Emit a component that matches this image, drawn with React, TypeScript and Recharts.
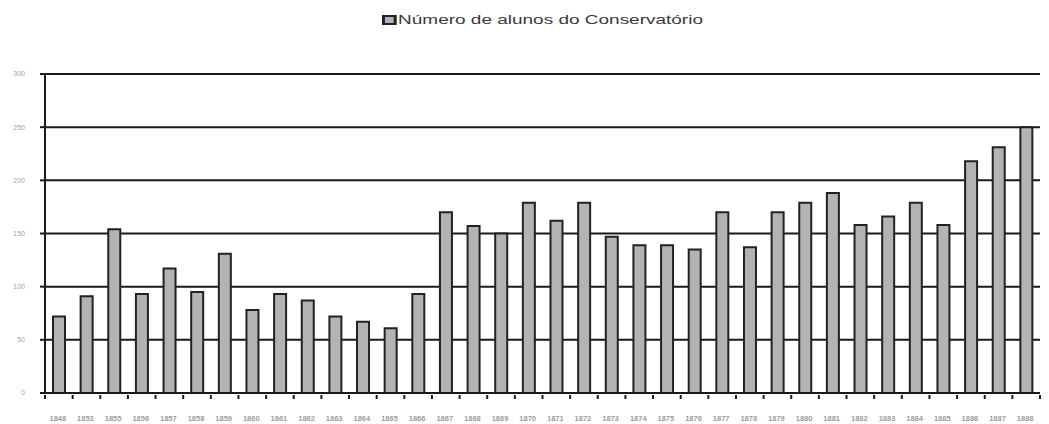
import React from "react"
import { Bar, BarChart, CartesianGrid, XAxis, YAxis } from "recharts"

const years = [
  "1848", "1853", "1855", "1856", "1857", "1858", "1859", "1860", "1861",
  "1862", "1863", "1864", "1865", "1866", "1867", "1868", "1869", "1870",
  "1871", "1872", "1873", "1874", "1875", "1876", "1877", "1878", "1879",
  "1880", "1881", "1882", "1883", "1884", "1885", "1886", "1887", "1888",
]

const students = [
  72, 91, 154, 93, 117, 95, 131, 78, 93,
  87, 72, 67, 61, 93, 170, 157, 150, 179,
  162, 179, 147, 139, 139, 135, 170, 137, 170,
  179, 188, 158, 166, 179, 158, 218, 231, 250,
]

const yTicks = [0, 50, 100, 150, 200, 250, 300]

const seriesName = "Número de alunos do Conservatório"

const data = years.map((year, i) => ({ year, alunos: students[i] }))

const W = 1049
const H = 424
const PLOT_LEFT = 45
const PLOT_RIGHT = 1040
const BAND = (PLOT_RIGHT - PLOT_LEFT) / years.length

// category ticks sit between the bars, not under them
function YearTick(props: any) {
  const { x, y, payload, index } = props
  const last = index === years.length - 1
  return (
    <g>
      <line x1={x - BAND / 2} x2={x - BAND / 2} y1={y - 18} y2={y - 14} stroke="#1a1a1a" strokeWidth={2} />
      {last && (
        <line x1={x + BAND / 2} x2={x + BAND / 2} y1={y - 18} y2={y - 14} stroke="#1a1a1a" strokeWidth={2} />
      )}
      <text x={x - 1} y={y + 8} textAnchor="middle" fontSize={7.5} fontWeight="bold" fill="#9c9c9c">
        {payload.value}
      </text>
    </g>
  )
}

export default function App() {
  return (
    <div style={{ position: "relative", width: W, height: H, fontFamily: "'Liberation Sans', Arial, sans-serif" }}>
      <style>{"body{margin:0}"}</style>
      {/* legend-style title, drawn wide */}
      <div
        style={{
          position: "absolute",
          top: 12,
          left: 382,
          fontSize: 13,
          lineHeight: "16px",
          color: "#3a3a3a",
          whiteSpace: "nowrap",
          display: "flex",
          alignItems: "center",
          transform: "scaleX(1.46)",
          transformOrigin: "left center",
        }}
      >
        <span
          style={{
            display: "inline-block",
            width: 6,
            height: 6,
            background: "#b3b3b7",
            border: "2px solid #222",
            marginRight: 1,
          }}
        />
        {seriesName}
      </div>
      <BarChart
        width={W}
        height={H}
        data={data}
        margin={{ top: 74, right: W - PLOT_RIGHT, bottom: 0, left: 0 }}
      >
        <CartesianGrid horizontal vertical={false} stroke="#1a1a1a" strokeWidth={2} />
        <XAxis
          dataKey="year"
          height={31}
          axisLine={{ stroke: "#1a1a1a", strokeWidth: 2 }}
          tickLine={false}
          interval={0}
          tick={<YearTick />}
          tickMargin={14}
        />
        <YAxis
          width={PLOT_LEFT}
          domain={[0, 300]}
          ticks={yTicks}
          interval={0}
          axisLine={{ stroke: "#1a1a1a", strokeWidth: 2 }}
          tickLine={{ stroke: "#1a1a1a", strokeWidth: 2 }}
          tickSize={5}
          tickMargin={15}
          tick={{ fontSize: 7, fill: "#a3a3a3" }}
        />
        <Bar
          dataKey="alunos"
          name={seriesName}
          fill="#b3b3b7"
          stroke="#222"
          strokeWidth={2}
          barSize={12}
          isAnimationActive={false}
        />
      </BarChart>
    </div>
  )
}
